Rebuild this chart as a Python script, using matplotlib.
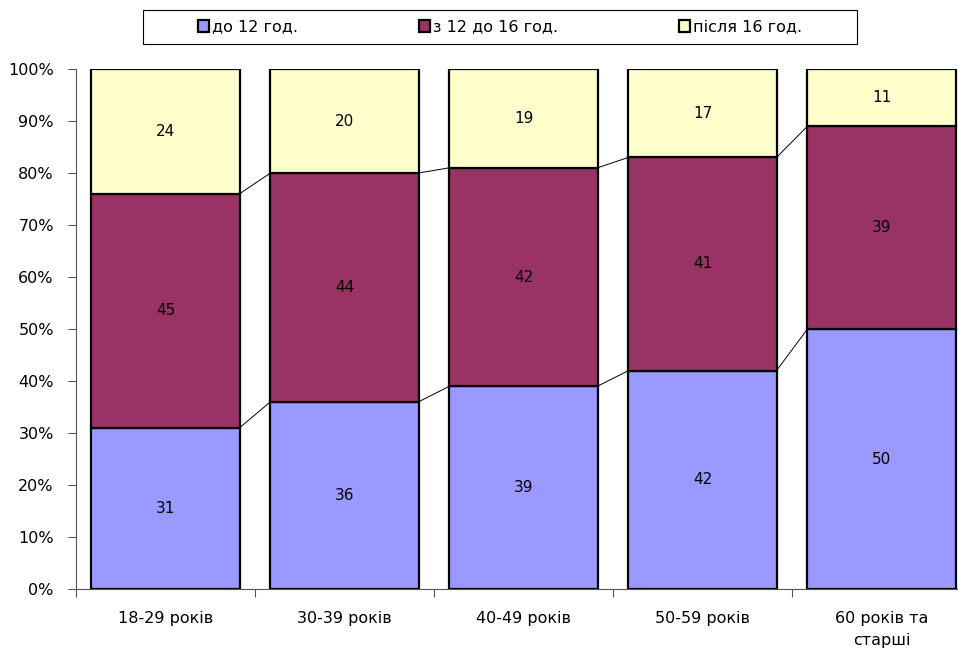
import matplotlib.pyplot as plt
import numpy as np
from matplotlib.patches import Rectangle

# categories and series (percent shares)
categories = ['18-29 років', '30-39 років', '40-49 років', '50-59 років', '60 років та\nстарші']
series_names = ['до 12 год.', 'з 12 до 16 год.', 'після 16 год.']
before_12 = [31, 36, 39, 42, 50]
from_12_to_16 = [45, 44, 42, 41, 39]
after_16 = [24, 20, 19, 17, 11]
colors = ['#9999FF', '#993366', '#FFFFCC']

plt.rcParams['font.family'] = ['DejaVu Sans']

data = np.array([before_12, from_12_to_16, after_16], dtype=float)
shares = data / data.sum(axis=0) * 100

fig = plt.figure(figsize=(9.58, 6.56), dpi=100)
ax = fig.add_axes([76 / 958, 1 - 589 / 656, 895 / 958, 520 / 656])

x = np.arange(len(categories))
width = 0.827
bottom = np.zeros(len(categories))
handles = []
for vals, raw, col, name in zip(shares, data, colors, series_names):
    bars = ax.bar(x, vals, width, bottom=bottom, color=col, edgecolor='black',
                  linewidth=1.6, label=name, zorder=3)
    handles.append(bars)
    for xi, b, v, r in zip(x, bottom, vals, raw):
        ax.text(xi, b + v / 2, f'{r:.0f}', ha='center', va='center', fontsize=11)
    bottom = bottom + vals
    # series lines between neighbouring bars
    if name != series_names[-1]:
        for i in range(len(categories) - 1):
            ax.plot([x[i] + width / 2, x[i + 1] - width / 2], [bottom[i], bottom[i + 1]],
                    color='black', linewidth=0.7, zorder=2)

ax.set_xlim(-0.5, len(categories) - 0.5)
ax.set_ylim(0, 100)
ax.set_yticks(np.arange(0, 101, 10))
ax.set_yticklabels([f'{v}%' for v in range(0, 101, 10)], fontsize=11.5)
ax.tick_params(axis='y', length=6, pad=10, color='#555555')

# category labels between boundary ticks
ax.set_xticks(np.arange(-0.5, len(categories), 1.0))
ax.set_xticklabels([])
ax.set_xticks(x, minor=True)
ax.set_xticklabels(categories, minor=True, fontsize=11.5, linespacing=1.6)
ax.tick_params(axis='x', which='major', length=6, color='#555555')
ax.tick_params(axis='x', which='minor', length=0, pad=16)

for s in ['top', 'right']:
    ax.spines[s].set_visible(False)
for s in ['left', 'bottom']:
    ax.spines[s].set_color('#555555')
    ax.spines[s].set_linewidth(0.8)

# legend box
fig.patches.append(Rectangle((143 / 958, 1 - 44 / 656), 714 / 958, 34 / 656,
                             transform=fig.transFigure, fill=False,
                             edgecolor='black', linewidth=0.8))
fig.legend(handles=handles, labels=series_names, loc='center',
           bbox_to_anchor=(500 / 958, 1 - 27 / 656), ncol=3, frameon=False,
           fontsize=11.5, handlelength=0.7, handleheight=0.8, handletextpad=0.15,
           columnspacing=7.6)

fig.savefig('out.png', dpi=100)
